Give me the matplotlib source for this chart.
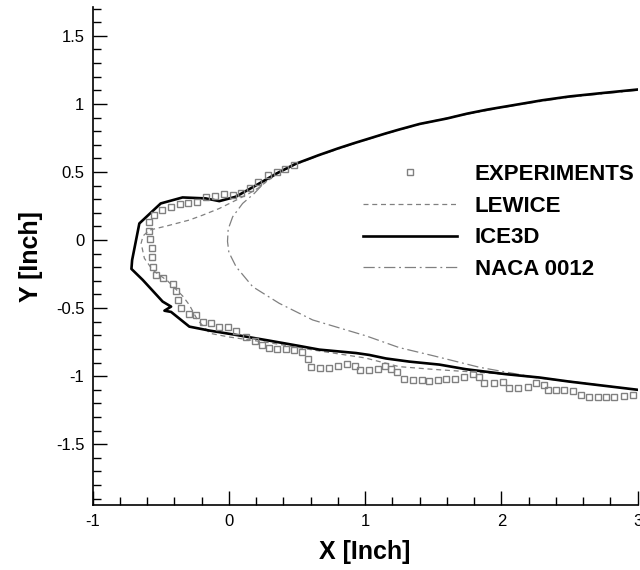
import matplotlib
matplotlib.use("Agg")
import matplotlib.pyplot as plt
from matplotlib.lines import Line2D
from matplotlib.ticker import MultipleLocator, FuncFormatter

plt.rcParams['font.family'] = ['Liberation Sans', 'DejaVu Sans']

# ICE3D ice shape (upper trailing side -> nose -> lower trailing side)
ice3d_x = [3.00, 2.75, 2.50, 2.30, 2.13, 1.90, 1.75, 1.60, 1.40, 1.25, 1.15, 0.91, 0.80,
           0.66, 0.49, 0.35, 0.175, 0.05,
           -0.07, -0.17, -0.34, -0.50, -0.657, -0.71, -0.715, -0.632, -0.486, -0.424,
           -0.473, -0.424, -0.29, -0.143, 0.053, 0.297, 0.517, 0.664, 0.933, 1.03,
           1.153, 1.324, 1.545, 1.74, 2.03, 2.28, 2.50, 3.00]
ice3d_y = [1.106, 1.081, 1.055, 1.027, 0.998, 0.959, 0.929, 0.893, 0.853, 0.812, 0.783, 0.709, 0.673,
           0.624, 0.560, 0.489, 0.388, 0.318,
           0.286, 0.306, 0.313, 0.269, 0.122, -0.147, -0.212, -0.293, -0.452, -0.489,
           -0.519, -0.528, -0.636, -0.665, -0.697, -0.739, -0.778, -0.805, -0.830, -0.844,
           -0.870, -0.893, -0.915, -0.949, -0.985, -1.010, -1.040, -1.100]

# LEWICE ice shape
lewice_x = [3.00, 2.50, 2.13, 1.75, 1.40, 1.15, 0.91, 0.66, 0.49, 0.35, 0.22, 0.15,
            0.053, -0.07, -0.192, -0.29, -0.45, -0.583, -0.63, -0.644, -0.62, -0.56,
            -0.45, -0.34, -0.29, -0.23, -0.14, 0.0, 0.3, 0.6, 1.0, 1.25, 1.5, 1.74,
            2.08, 2.5, 3.0]
lewice_y = [1.106, 1.055, 0.998, 0.929, 0.853, 0.783, 0.709, 0.624, 0.560, 0.489, 0.385, 0.343,
            0.293, 0.232, 0.183, 0.147, 0.105, 0.073, 0.03, -0.024, -0.134, -0.22,
            -0.30, -0.41, -0.477, -0.587, -0.685, -0.712, -0.755, -0.805, -0.866, -0.93, -0.95, -0.966,
            -0.99, -1.04, -1.10]

# clean NACA 0012 contour
naca_x = [3.0, 2.5, 2.13, 1.75, 1.4, 1.15, 0.91, 0.66, 0.49, 0.35, 0.25, 0.187, 0.101,
          0.028, -0.005, -0.01, 0.0, 0.053, 0.175, 0.37, 0.615, 1.007, 1.25, 1.5, 1.84,
          2.2, 2.6, 3.0]
naca_y = [1.10, 1.05, 0.995, 0.925, 0.85, 0.78, 0.705, 0.62, 0.555, 0.485, 0.41, 0.343, 0.269,
          0.171, 0.08, -0.01, -0.09, -0.196, -0.343, -0.465, -0.587, -0.704, -0.79, -0.85, -0.935,
          -1.0, -1.05, -1.10]

# experimental ice shape
exp_x = [0.478, 0.415, 0.351, 0.285, 0.215, 0.153, 0.09, 0.028, -0.035, -0.099, -0.167, -0.233,
         -0.297, -0.361, -0.427, -0.49, -0.549, -0.585, -0.588, -0.576, -0.567, -0.563, -0.555,
         -0.534, -0.481, -0.412, -0.387, -0.372, -0.351, -0.295, -0.238, -0.187, -0.131, -0.07,
         -0.005, 0.055, 0.126, 0.193, 0.244, 0.292, 0.352, 0.417, 0.481, 0.535, 0.578, 0.605,
         0.67, 0.737, 0.803, 0.867, 0.924, 0.965, 1.031, 1.092, 1.148, 1.187, 1.233, 1.288,
         1.354, 1.417, 1.471, 1.532, 1.594, 1.662, 1.728, 1.789, 1.838, 1.875, 1.948, 2.009,
         2.058, 2.124, 2.192, 2.254, 2.315, 2.339, 2.4, 2.461, 2.522, 2.584, 2.645, 2.706,
         2.767, 2.828, 2.902, 2.963]
exp_y = [0.550, 0.519, 0.499, 0.477, 0.425, 0.379, 0.347, 0.334, 0.335, 0.323, 0.318, 0.281,
         0.274, 0.262, 0.240, 0.220, 0.183, 0.132, 0.070, 0.005, -0.061, -0.127, -0.195,
         -0.257, -0.281, -0.32, -0.377, -0.437, -0.499, -0.543, -0.553, -0.599, -0.613, -0.642,
         -0.642, -0.671, -0.711, -0.744, -0.77, -0.792, -0.804, -0.804, -0.806, -0.82, -0.877, -0.929,
         -0.939, -0.939, -0.926, -0.91, -0.922, -0.954, -0.954, -0.951, -0.922, -0.95, -0.973, -1.02,
         -1.027, -1.027, -1.032, -1.027, -1.022, -1.02, -1.003, -0.983, -1.003, -1.051, -1.051, -1.04,
         -1.088, -1.088, -1.081, -1.051, -1.064, -1.1, -1.1, -1.1, -1.106, -1.137, -1.154, -1.154,
         -1.154, -1.154, -1.145, -1.137]

labels = ["EXPERIMENTS", "LEWICE", "ICE3D", "NACA 0012"]

fig = plt.figure(figsize=(6.4, 5.7), dpi=100)
ax = fig.add_axes([0.1447, 0.1132, 0.8516, 0.874])

gray = '#808080'
naca_dash = (9, 3, 1.5, 3)
lewice_dash = (4, 3)
ax.plot(naca_x, naca_y, color=gray, lw=0.9, dashes=naca_dash)
ax.plot(lewice_x, lewice_y, color=gray, lw=0.9, dashes=lewice_dash)
ax.plot(ice3d_x, ice3d_y, color='black', lw=1.9)
ax.plot(exp_x, exp_y, ls='none', marker='s', ms=5, mfc='none', mec=gray, mew=1.0)

ax.set_xlim(-1, 3)
ax.set_ylim(-1.95, 1.71)
ax.xaxis.set_major_locator(MultipleLocator(1))
ax.xaxis.set_minor_locator(MultipleLocator(0.2))
ax.yaxis.set_major_locator(MultipleLocator(0.5))
ax.yaxis.set_minor_locator(MultipleLocator(0.1))
ax.xaxis.set_major_formatter(FuncFormatter(lambda v, p: f"{v:g}"))
ax.yaxis.set_major_formatter(FuncFormatter(lambda v, p: f"{v:g}"))

for s in ['top', 'right']:
    ax.spines[s].set_visible(False)
for s in ['left', 'bottom']:
    ax.spines[s].set_linewidth(1.2)
ax.tick_params(which='both', direction='in', width=1.0, labelsize=12)
ax.tick_params(which='major', length=10, pad=6)
ax.tick_params(which='minor', length=5.5)

ax.set_xlabel("X [Inch]", fontsize=18, fontweight='bold', labelpad=8)
ax.set_ylabel("Y [Inch]", fontsize=18, fontweight='bold', labelpad=9)

handles = [
    Line2D([], [], ls='none', marker='s', ms=5, mfc='none', mec=gray, mew=1.0),
    Line2D([], [], color=gray, lw=0.9, dashes=lewice_dash),
    Line2D([], [], color='black', lw=1.9),
    Line2D([], [], color=gray, lw=0.9, dashes=naca_dash),
]
ax.legend(handles, labels, loc='upper left', bbox_to_anchor=(363 / 640, 1 - 164 / 570),
          bbox_transform=fig.transFigure, frameon=False, handlelength=4.23,
          handletextpad=0.8, labelspacing=0.48, borderpad=0, borderaxespad=0,
          prop={'size': 16, 'weight': 'bold'})

plt.savefig("out.png", dpi=100)
